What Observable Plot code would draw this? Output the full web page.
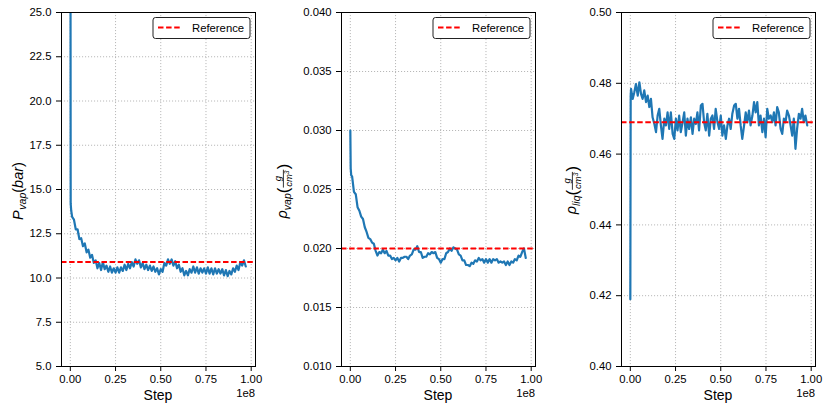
<!DOCTYPE html>
<html><head><meta charset="utf-8">
<script src="https://cdn.jsdelivr.net/npm/d3@7"></script>
<script src="https://cdn.jsdelivr.net/npm/@observablehq/plot@0.6"></script>
<style>
body{margin:0;background:#fff;}
#wrap{position:relative;width:830px;height:411px;overflow:hidden;}
#wrap svg{position:absolute;top:0;}
</style>
</head><body><div id="wrap"></div>
<script>
// ---- data (steps in units of 1e8) ----
const steps12 = [0, 0.002, 0.005, 0.01, 0.02, 0.03, 0.04, 0.05, 0.06, 0.07, 0.08, 0.09, 0.10, 0.11, 0.12, 0.13, 0.14, 0.15, 0.16, 0.17, 0.18, 0.19, 0.20, 0.21, 0.22, 0.23, 0.24, 0.25, 0.26, 0.27, 0.28, 0.29, 0.30, 0.31, 0.32, 0.33, 0.34, 0.35, 0.36, 0.37, 0.38, 0.39, 0.40, 0.41, 0.42, 0.43, 0.44, 0.45, 0.46, 0.47, 0.48, 0.49, 0.50, 0.51, 0.52, 0.53, 0.54, 0.55, 0.56, 0.57, 0.58, 0.59, 0.60, 0.61, 0.62, 0.63, 0.64, 0.65, 0.66, 0.67, 0.68, 0.69, 0.70, 0.71, 0.72, 0.73, 0.74, 0.75, 0.76, 0.77, 0.78, 0.79, 0.80, 0.81, 0.82, 0.83, 0.84, 0.85, 0.86, 0.87, 0.88, 0.89, 0.90, 0.91, 0.92, 0.93, 0.94, 0.95, 0.96, 0.97];
const pVap = [40, 14.2, 13.8, 13.45, 13.3, 12.75, 12.75, 12.2, 12.25, 11.8, 11.95, 11.45, 11.6, 11.15, 11.3, 10.85, 11.0, 10.55, 10.85, 10.45, 10.9, 10.5, 10.7, 10.35, 10.65, 10.3, 10.55, 10.3, 10.6, 10.3, 10.6, 10.4, 10.75, 10.45, 10.8, 10.55, 10.9, 10.65, 11.05, 10.8, 11.0, 10.6, 10.85, 10.5, 10.75, 10.45, 10.7, 10.4, 10.65, 10.35, 10.55, 10.2, 10.5, 10.35, 10.85, 10.7, 11.05, 10.8, 11.05, 10.7, 10.95, 10.55, 10.75, 10.35, 10.55, 10.15, 10.4, 10.15, 10.5, 10.3, 10.65, 10.3, 10.6, 10.25, 10.55, 10.3, 10.55, 10.25, 10.6, 10.25, 10.55, 10.2, 10.55, 10.25, 10.5, 10.25, 10.5, 10.15, 10.45, 10.1, 10.4, 10.2, 10.55, 10.35, 10.7, 10.45, 10.9, 10.7, 11.0, 10.65];
const rhoVap = [0.0300, 0.0268, 0.0262, 0.0261, 0.0248, 0.0246, 0.0235, 0.0232, 0.0227, 0.0225, 0.0218, 0.0214, 0.0209, 0.0208, 0.0205, 0.0204, 0.0198, 0.0194, 0.0197, 0.0196, 0.0199, 0.0196, 0.0198, 0.0194, 0.0194, 0.0191, 0.0192, 0.0190, 0.0192, 0.0189, 0.0192, 0.0192, 0.0193, 0.0193, 0.0191, 0.0194, 0.0195, 0.0199, 0.0199, 0.0202, 0.0197, 0.0197, 0.0192, 0.0193, 0.0193, 0.0196, 0.0195, 0.0197, 0.0196, 0.0197, 0.0192, 0.0191, 0.0188, 0.0191, 0.0191, 0.0196, 0.0197, 0.0200, 0.0198, 0.0201, 0.0200, 0.0199, 0.0195, 0.0194, 0.0190, 0.0190, 0.0186, 0.0186, 0.0185, 0.0188, 0.0187, 0.0190, 0.0189, 0.0192, 0.0190, 0.0191, 0.0188, 0.0191, 0.0188, 0.0191, 0.0188, 0.0191, 0.0190, 0.0191, 0.0188, 0.0189, 0.0188, 0.0189, 0.0186, 0.0189, 0.0186, 0.0189, 0.0188, 0.0191, 0.0190, 0.0194, 0.0193, 0.0197, 0.0200, 0.0192];
const steps3 = [0, 0.002, 0.004, 0.013, 0.022, 0.031, 0.041, 0.050, 0.059, 0.068, 0.077, 0.087, 0.096, 0.105, 0.114, 0.123, 0.133, 0.142, 0.151, 0.160, 0.169, 0.178, 0.188, 0.197, 0.206, 0.215, 0.224, 0.234, 0.243, 0.252, 0.261, 0.270, 0.279, 0.289, 0.298, 0.307, 0.316, 0.325, 0.335, 0.344, 0.353, 0.362, 0.371, 0.380, 0.390, 0.399, 0.408, 0.417, 0.426, 0.436, 0.445, 0.454, 0.463, 0.472, 0.482, 0.491, 0.500, 0.509, 0.518, 0.528, 0.537, 0.546, 0.555, 0.564, 0.574, 0.583, 0.592, 0.601, 0.610, 0.619, 0.629, 0.638, 0.647, 0.656, 0.665, 0.675, 0.684, 0.693, 0.702, 0.711, 0.720, 0.730, 0.739, 0.748, 0.757, 0.766, 0.776, 0.785, 0.794, 0.803, 0.812, 0.821, 0.831, 0.840, 0.849, 0.858, 0.867, 0.877, 0.886, 0.895, 0.904, 0.913, 0.922, 0.932, 0.941, 0.950, 0.959, 0.968, 0.978];
const rhoLiq = [0.419, 0.4765, 0.4784, 0.4756, 0.4775, 0.4798, 0.4765, 0.4803, 0.4770, 0.4756, 0.4780, 0.4747, 0.4765, 0.4733, 0.4756, 0.4704, 0.4685, 0.4662, 0.4709, 0.4728, 0.4681, 0.4643, 0.4700, 0.4681, 0.4718, 0.4671, 0.4718, 0.4657, 0.4643, 0.4700, 0.4667, 0.4709, 0.4662, 0.4690, 0.4718, 0.4652, 0.4700, 0.4671, 0.4704, 0.4657, 0.4700, 0.4685, 0.4718, 0.4667, 0.4737, 0.4742, 0.4690, 0.4667, 0.4714, 0.4652, 0.4700, 0.4709, 0.4671, 0.4728, 0.4690, 0.4671, 0.4709, 0.4652, 0.4681, 0.4643, 0.4681, 0.4700, 0.4671, 0.4714, 0.4737, 0.4742, 0.4700, 0.4728, 0.4681, 0.4643, 0.4681, 0.4718, 0.4690, 0.4723, 0.4681, 0.4709, 0.4747, 0.4718, 0.4747, 0.4681, 0.4709, 0.4662, 0.4700, 0.4648, 0.4728, 0.4700, 0.4709, 0.4690, 0.4718, 0.4681, 0.4733, 0.4718, 0.4671, 0.4657, 0.4700, 0.4690, 0.4723, 0.4709, 0.4681, 0.4652, 0.4700, 0.4615, 0.4671, 0.4714, 0.4700, 0.4728, 0.4690, 0.4709, 0.4681];
const refValues = [10.9, 0.020, 0.469];
const xTicks = [0, 0.25, 0.5, 0.75, 1.0];
const yTicks1 = [5, 7.5, 10, 12.5, 15, 17.5, 20, 22.5, 25];
const yTicks2 = [0.010, 0.015, 0.020, 0.025, 0.030, 0.035, 0.040];
const yTicks3 = [0.40, 0.42, 0.44, 0.46, 0.48, 0.50];
const xLabel = "Step";
const xOffsetLabel = "1e8";
const legendLabel = "Reference";

const FONT = "'Liberation Sans', Arial, Helvetica, sans-serif";
const BLUE = "#1f77b4";
const wrap = document.getElementById("wrap");

const panels = [
  {offset: 0,   width: 280, ml: 61, mr: 25, steps: steps12, vals: pVap,   ref: refValues[0], yDomain: [5, 25],      yTicks: yTicks1, fmt: d => d.toFixed(1)},
  {offset: 280, width: 280, ml: 61, mr: 25, steps: steps12, vals: rhoVap, ref: refValues[1], yDomain: [0.010, 0.040], yTicks: yTicks2, fmt: d => d.toFixed(3)},
  {offset: 560, width: 270, ml: 61, mr: 15, steps: steps3,  vals: rhoLiq, ref: refValues[2], yDomain: [0.40, 0.50],  yTicks: yTicks3, fmt: d => d.toFixed(2)}
];

const gridStyle = {stroke: "#b0b0b0", strokeOpacity: 1, strokeWidth: 0.9, strokeDasharray: "1.1,1.9"};

for (const p of panels) {
  const n = Math.min(p.steps.length, p.vals.length);
  const rows = [];
  for (let i = 0; i < n; i++) rows.push({step: p.steps[i], value: p.vals[i]});
  const chart = Plot.plot({
    width: p.width, height: 411,
    marginLeft: p.ml, marginRight: p.mr, marginTop: 12, marginBottom: 45,
    style: {fontFamily: FONT, fontSize: "11.3px", color: "#000", background: "transparent"},
    x: {domain: [-0.0488, 1.0238]},
    y: {domain: p.yDomain},
    marks: [
      Plot.gridX(xTicks, gridStyle),
      Plot.gridY(p.yTicks, gridStyle),
      Plot.line(rows, {x: "step", y: "value", stroke: BLUE, strokeWidth: 2.2, clip: true}),
      Plot.ruleY([p.ref], {stroke: "#ff0000", strokeWidth: 2, strokeDasharray: "5.5,2.6"}),
      Plot.frame({stroke: "#000", strokeWidth: 1}),
      Plot.axisX(xTicks, {tickSize: 5, tickPadding: 3, tickFormat: d => d.toFixed(2), label: null, fontSize: 11.3}),
      Plot.axisY(p.yTicks, {tickSize: 5, tickPadding: 5, tickFormat: p.fmt, label: null, fontSize: 11.3})
    ]
  });
  chart.style.left = p.offset + "px";
  wrap.appendChild(chart);
}

// ---- overlay for labels and legends ----
const ov = d3.select(wrap).append("svg")
  .attr("width", 830).attr("height", 411)
  .style("left", "0px").style("pointer-events", "none")
  .attr("font-family", FONT);

const frames = panels.map(p => ({left: p.offset + p.ml, right: p.offset + p.width - p.mr}));

frames.forEach(f => {
  ov.append("text").attr("x", (f.left + f.right) / 2).attr("y", 399.5)
    .attr("text-anchor", "middle").attr("font-size", 14).text(xLabel);
  ov.append("text").attr("x", f.right).attr("y", 397)
    .attr("text-anchor", "end").attr("font-size", 11.3).text(xOffsetLabel);
  const rx = f.right - 5 - 97;
  ov.append("rect").attr("x", rx).attr("y", 17.5).attr("width", 97).attr("height", 21)
    .attr("rx", 2.5).attr("fill", "#fff").attr("stroke", "#222").attr("stroke-width", 1);
  ov.append("line").attr("x1", rx + 5).attr("x2", rx + 28).attr("y1", 27.5).attr("y2", 27.5)
    .attr("stroke", "#ff0000").attr("stroke-width", 2).attr("stroke-dasharray", "5.5,2.6");
  ov.append("text").attr("x", rx + 39).attr("y", 31.5).attr("font-size", 11.3).text(legendLabel);
});

function mathLabel(bx, cy, parts) {
  const g = ov.append("g").attr("transform", `translate(${bx},${cy}) rotate(-90)`);
  const inner = g.append("g");
  let x = 0;
  for (const p of parts) {
    if (p.frac) {
      const fs = p.s;
      const num = inner.append("text").attr("y", -5.8).attr("font-size", fs).attr("font-style", "italic").text(p.frac[0]);
      const den = inner.append("text").attr("y", 5.4).attr("font-size", fs).attr("font-style", "italic");
      den.append("tspan").text(p.frac[1]);
      den.append("tspan").attr("font-size", fs * 0.7).attr("dy", -3.5).text(p.frac[2]);
      const w = Math.max(num.node().getComputedTextLength(), den.node().getComputedTextLength()) + 1.5;
      num.attr("x", x + w / 2).attr("text-anchor", "middle");
      den.attr("x", x + w / 2).attr("text-anchor", "middle");
      inner.append("line").attr("x1", x).attr("x2", x + w).attr("y1", -3.6).attr("y2", -3.6)
        .attr("stroke", "#000").attr("stroke-width", 0.8);
      x += w + 0.5;
    } else {
      const t = inner.append("text").attr("x", x).attr("y", p.dy || 0)
        .attr("font-size", p.s).attr("font-style", p.it ? "italic" : "normal").text(p.t);
      x += t.node().getComputedTextLength() + (p.pad || 0);
    }
  }
  inner.attr("transform", `translate(${-x / 2},0)`);
}

mathLabel(22.5, 191, [
  {t: "P", s: 14.5, it: true, pad: 0.5},
  {t: "vap", s: 10.5, it: true, dy: 3.2},
  {t: "(", s: 14.5},
  {t: "bar", s: 14.5, it: true},
  {t: ")", s: 14.5}
]);
mathLabel(287, 191, [
  {t: "ρ", s: 14.5, it: true},
  {t: "vap", s: 10.5, it: true, dy: 3.7},
  {t: "(", s: 17, dy: 2},
  {frac: ["g", "cm", "3"], s: 9.5},
  {t: ")", s: 17, dy: 2}
]);
mathLabel(576, 190, [
  {t: "ρ", s: 14.5, it: true},
  {t: "liq", s: 10.5, it: true, dy: 3.7},
  {t: "(", s: 17, dy: 2},
  {frac: ["g", "cm", "3"], s: 9.5},
  {t: ")", s: 17, dy: 2}
]);
</script>
</body></html>
